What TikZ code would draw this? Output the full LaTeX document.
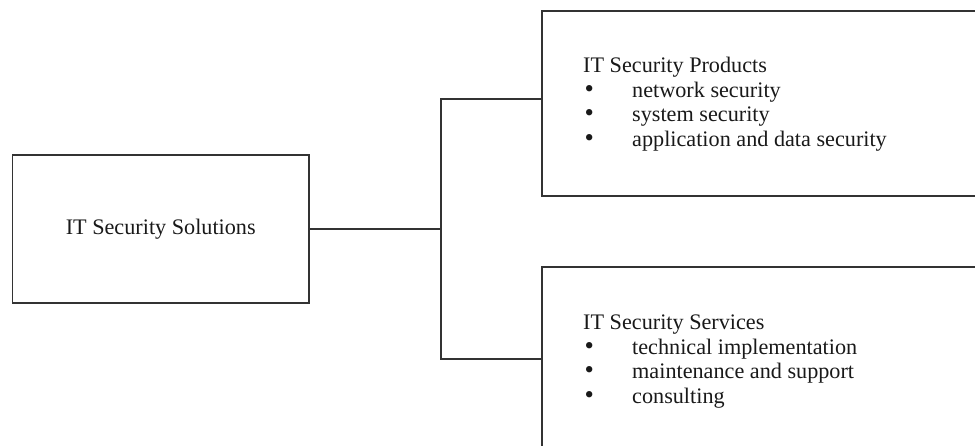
\documentclass[tikz,border=0pt]{standalone}
\usepackage{fontspec}
\setmainfont{Liberation Serif}
\newcommand{\bulletmark}{\makebox[49pt][l]{\hspace{1.5pt}\smash{\scalebox{1.2}{•}}}}
\begin{document}
\begin{tikzpicture}[x=1pt,y=-1pt,
  boxstyle/.style={draw=black!80, line width=1.2pt, rectangle, inner sep=0pt},
  conn/.style={draw=black!80, line width=1.2pt},
  txt/.style={inner sep=0pt, text=black!90, font=\fontsize{22.2}{24.5}\selectfont}]
\clip (0,0) rectangle (975,446);
\useasboundingbox (0,0) rectangle (975,446);
% boxes
\node[boxstyle, minimum width=296.5pt, minimum height=148pt] (sol) at (160.75,229) {};
\node[boxstyle, minimum width=458pt, minimum height=185pt] (prod) at (771,103.5) {};
\node[boxstyle, minimum width=458pt, minimum height=203pt] (serv) at (771,368.5) {};
% texts
\node[txt, anchor=base] (soltext) at (160.75,235) {IT Security Solutions};
\node[txt, anchor=base west] (prodtext) at (583,73) {%
  \renewcommand{\arraystretch}{1}%
  \begin{tabular}[t]{@{}l@{}l@{}}
  \multicolumn{2}{@{}l@{}}{IT Security Products}\\
  \bulletmark & network security\\
  \bulletmark & system security\\
  \bulletmark & application and data security
  \end{tabular}};
\node[txt, anchor=base west] (servtext) at (583,330) {%
  \renewcommand{\arraystretch}{1}%
  \begin{tabular}[t]{@{}l@{}l@{}}
  \multicolumn{2}{@{}l@{}}{IT Security Services}\\
  \bulletmark & technical implementation\\
  \bulletmark & maintenance and support\\
  \bulletmark & consulting
  \end{tabular}};
% connectors
\coordinate (fork) at (441,229);
\coordinate (ptop) at (441,99);
\coordinate (pbot) at (441,359);
\draw[conn] (sol.east) -- (fork);
\draw[conn] (prod.west |- ptop) -- (ptop) -- (pbot) -- (serv.west |- pbot);
\end{tikzpicture}
\end{document}
